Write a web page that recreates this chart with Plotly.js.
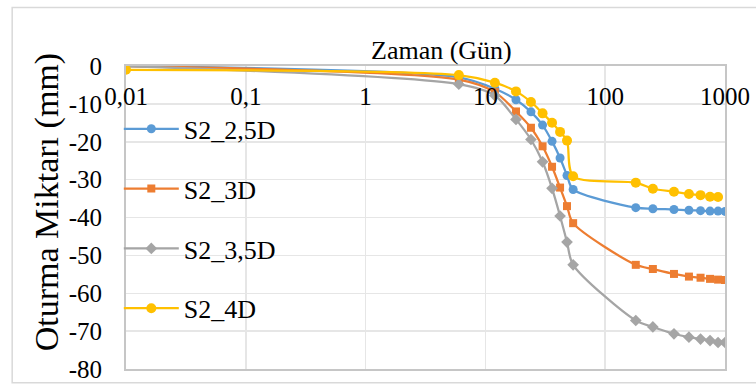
<!DOCTYPE html>
<html>
<head>
<meta charset="utf-8">
<script src="https://cdn.plot.ly/plotly-3.0.1.min.js"></script>
<style>html,body{margin:0;padding:0;background:#fff;}#chart{width:756px;height:385px;}</style>
</head>
<body>
<div id="chart"></div>
<script>
// Time (days)
const days = [0.01, 6, 12, 18, 24, 30, 36, 42, 48, 54, 180, 250, 375, 500, 625, 750, 875, 1000];
const days4D = [0.01, 6, 12, 18, 24, 30, 36, 42, 48, 54, 180, 250, 375, 500, 625, 750, 875];
// Settlement (mm)
const s25 = [0, -3.0, -6.0, -8.9, -12.1, -15.6, -19.9, -24.3, -28.9, -32.6, -37.4, -37.7, -37.9, -38.1, -38.2, -38.3, -38.3, -38.4];
const s30 = [0, -3.6, -6.9, -12.0, -16.3, -21.2, -26.6, -32.1, -37.0, -41.5, -52.5, -53.6, -54.9, -55.6, -55.9, -56.2, -56.4, -56.5];
const s35 = [0, -4.8, -7.8, -14.1, -19.4, -25.3, -32.3, -39.6, -46.5, -52.5, -67.2, -68.9, -70.7, -71.6, -72.1, -72.5, -73.0, -73.0];
const s40 = [-1.0, -2.4, -4.4, -6.7, -9.5, -12.5, -15.0, -17.4, -19.7, -29.1, -30.8, -32.4, -33.2, -33.8, -34.1, -34.5, -34.6];
const names = ["S2_2,5D", "S2_3D", "S2_3,5D", "S2_4D"];
const xTickVals = [0.01, 0.1, 1, 10, 100, 1000];
const xTickText = ["0,01", "0,1", "1", "10", "100", "1000"];
const yTickVals = [0, -10, -20, -30, -40, -50, -60, -70, -80];
const yTickText = ["0", "-10", "-20", "-30", "-40", "-50", "-60", "-70", "-80"];

const FONT = "Liberation Serif";
function tr(x, y, name, color, symbol, size) {
  return {
    x: x, y: y, name: name, type: "scatter", mode: "lines+markers",
    legendgroup: name,
    line: {color: color, width: 2.25, shape: "spline", smoothing: 0.8},
    marker: {color: color, symbol: symbol, size: size}
  };
}
const data = [
  tr(days, s25, names[0], "#5B9BD5", "circle", 9),
  tr(days, s30, names[1], "#ED7D31", "square", 8),
  tr(days, s35, names[2], "#A5A5A5", "diamond", 9),
  tr(days4D, s40, names[3], "#FFC000", "circle", 10),
  // carrier (no visible marks) so the label axis under the top line is drawn
  {x: xTickVals, y: xTickVals.map(() => null), xaxis: "x2", yaxis: "y",
   type: "scatter", mode: "markers", showlegend: false, hoverinfo: "skip"}
];
const layout = {
  width: 756, height: 385,
  margin: {l: 126, r: 31, t: 66, b: 16},
  paper_bgcolor: "#fff", plot_bgcolor: "#fff",
  font: {family: FONT, color: "#000", size: 25},
  showlegend: true,
  legend: {
    x: -0.012, y: 0.87, xanchor: "left", yanchor: "top",
    bgcolor: "rgba(0,0,0,0)", font: {family: FONT, size: 26, color: "#000"},
    traceorder: "grouped", tracegroupgap: 23, itemwidth: 55
  },
  xaxis: {
    type: "log", range: [-2, 3],
    showticklabels: false, ticks: "",
    tickvals: xTickVals,
    showgrid: true, gridcolor: "#e6e6e6", gridwidth: 1.5,
    showline: true, linecolor: "#c6c6c6", linewidth: 2, mirror: true,
    zeroline: false
  },
  xaxis2: {
    type: "log", range: [-2, 3], overlaying: "x", anchor: "free", position: 1, side: "bottom",
    tickvals: xTickVals, ticktext: xTickText,
    ticks: "", ticklabelstandoff: 13,
    tickfont: {family: FONT, size: 25, color: "#000"},
    showgrid: false, showline: false, zeroline: false
  },
  yaxis: {
    range: [-80, 0],
    tickvals: yTickVals, ticktext: yTickText,
    ticks: "", ticklabelstandoff: 17,
    tickfont: {family: FONT, size: 25, color: "#000"},
    showgrid: true, gridcolor: "#e6e6e6", gridwidth: 1.5,
    showline: true, linecolor: "#c6c6c6", linewidth: 2, mirror: true,
    zeroline: false
  },
  annotations: [
    {text: "Zaman (Gün)", xref: "paper", yref: "paper", x: 0.527, y: 1.05,
     xanchor: "center", yanchor: "middle", showarrow: false,
     font: {family: FONT, size: 26, color: "#000"}},
    {text: "Oturma Miktarı (mm)", xref: "paper", yref: "paper", x: -0.132, y: 0.55,
     xanchor: "center", yanchor: "middle", showarrow: false, textangle: -90,
     font: {family: FONT, size: 34, color: "#000"}}
  ],
  shapes: [
    {type: "rect", xref: "paper", yref: "paper", x0: -0.19, x1: 1.06, y0: -0.045, y1: 1.193,
     line: {color: "#d9d9d9", width: 1.5}, fillcolor: "rgba(0,0,0,0)", layer: "below"}
  ]
};
Plotly.newPlot("chart", data, layout, {displayModeBar: false, staticPlot: true});
</script>
</body>
</html>
